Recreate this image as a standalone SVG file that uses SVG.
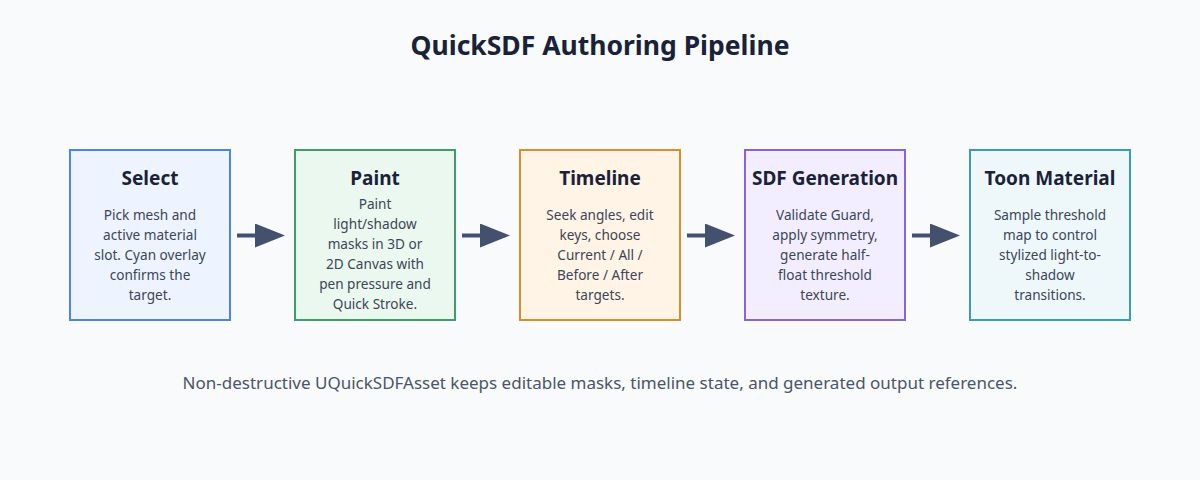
<svg xmlns="http://www.w3.org/2000/svg" width="1200" height="480" viewBox="0 0 1200 480">
<style>
.bg{fill:#f8fafc}
.title{font-family:"Segoe UI","Noto Sans","Open Sans",sans-serif;font-size:26.5px;font-weight:700;fill:#1a2238;text-anchor:middle}
.nt{font-family:"Segoe UI","Noto Sans","Open Sans",sans-serif;font-size:19px;font-weight:700;fill:#1a2238;text-anchor:middle}
.nb{font-family:"Segoe UI","Noto Sans","Open Sans",sans-serif;font-size:13.6px;fill:#3b4658;text-anchor:middle}
.foot{font-family:"Segoe UI","Noto Sans","Open Sans",sans-serif;font-size:17px;fill:#4a5568;text-anchor:middle}
.box{stroke-width:2}
.conn{stroke:#44516e;stroke-width:4;fill:none}
</style>
<defs>
<marker id="ah" viewBox="0 0 30 24" refX="0" refY="12" markerWidth="30" markerHeight="24" markerUnits="userSpaceOnUse" orient="auto">
<path d="M0,0 L30,12 L0,24 Z" fill="#44516e"/>
</marker>
</defs>
<rect class="bg" x="0" y="0" width="1200" height="480"/>
<text class="title" x="600" y="55">QuickSDF Authoring Pipeline</text>

<g id="select">
<rect class="box" x="70" y="150" width="160" height="170" fill="#edf4ff" stroke="#4a86e0"/>
<text class="nt" x="150" y="185">Select</text>
<text class="nb" x="150" y="220">Pick mesh and</text>
<text class="nb" x="150" y="240">active material</text>
<text class="nb" x="150" y="260">slot. Cyan overlay</text>
<text class="nb" x="150" y="280">confirms the</text>
<text class="nb" x="150" y="300">target.</text>
</g>

<g id="paint">
<rect class="box" x="295" y="150" width="160" height="170" fill="#ebf8ef" stroke="#3c9e6a"/>
<text class="nt" x="375" y="185">Paint</text>
<text class="nb" x="375" y="209">Paint</text>
<text class="nb" x="375" y="229">light/shadow</text>
<text class="nb" x="375" y="249">masks in 3D or</text>
<text class="nb" x="375" y="269">2D Canvas with</text>
<text class="nb" x="375" y="289">pen pressure and</text>
<text class="nb" x="375" y="309">Quick Stroke.</text>
</g>

<g id="timeline">
<rect class="box" x="520" y="150" width="160" height="170" fill="#fff4e5" stroke="#d88f2a"/>
<text class="nt" x="600" y="185">Timeline</text>
<text class="nb" x="600" y="220">Seek angles, edit</text>
<text class="nb" x="600" y="240">keys, choose</text>
<text class="nb" x="600" y="260">Current / All /</text>
<text class="nb" x="600" y="280">Before / After</text>
<text class="nb" x="600" y="300">targets.</text>
</g>

<g id="sdf">
<rect class="box" x="745" y="150" width="160" height="170" fill="#f3eeff" stroke="#8a63d8"/>
<text class="nt" x="825" y="185">SDF Generation</text>
<text class="nb" x="825" y="220">Validate Guard,</text>
<text class="nb" x="825" y="240">apply symmetry,</text>
<text class="nb" x="825" y="260">generate half-</text>
<text class="nb" x="825" y="280">float threshold</text>
<text class="nb" x="825" y="300">texture.</text>
</g>

<g id="toon">
<rect class="box" x="970" y="150" width="160" height="170" fill="#eef8fa" stroke="#3a9eab"/>
<text class="nt" x="1050" y="185">Toon Material</text>
<text class="nb" x="1050" y="220">Sample threshold</text>
<text class="nb" x="1050" y="240">map to control</text>
<text class="nb" x="1050" y="260">stylized light-to-</text>
<text class="nb" x="1050" y="280">shadow</text>
<text class="nb" x="1050" y="300">transitions.</text>
</g>

<g id="connectors">
<line class="conn" x1="237" y1="235.5" x2="255" y2="235.5" marker-end="url(#ah)"/>
<line class="conn" x1="462" y1="235.5" x2="480" y2="235.5" marker-end="url(#ah)"/>
<line class="conn" x1="687" y1="235.5" x2="705" y2="235.5" marker-end="url(#ah)"/>
<line class="conn" x1="912" y1="235.5" x2="930" y2="235.5" marker-end="url(#ah)"/>
</g>

<text class="foot" x="600" y="389">Non-destructive UQuickSDFAsset keeps editable masks, timeline state, and generated output references.</text>
</svg>
